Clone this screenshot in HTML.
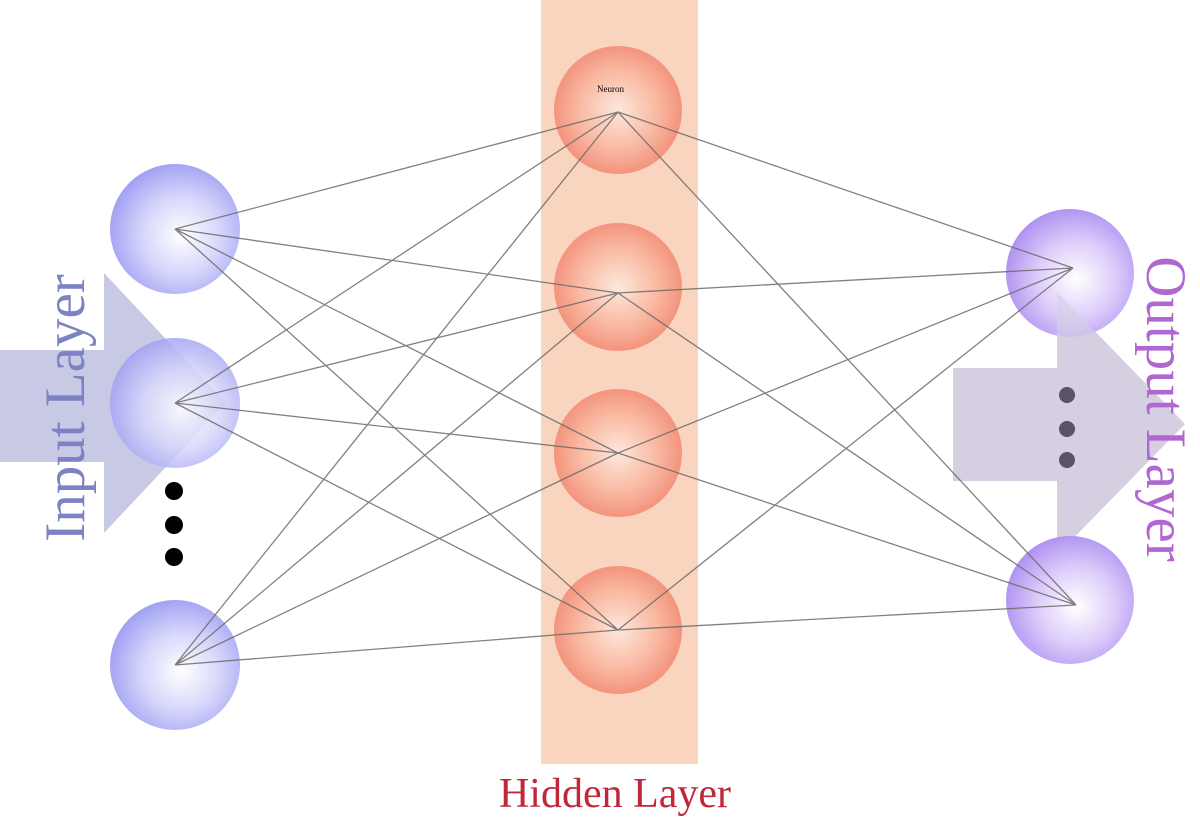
<!DOCTYPE html>
<html><head><meta charset="utf-8"><style>
html,body{margin:0;padding:0;background:#fff;}
svg{display:block;}
</style></head><body>
<svg width="1200" height="820" viewBox="0 0 1200 820" xmlns="http://www.w3.org/2000/svg">
<defs>
<radialGradient id="blue" cx="0.55" cy="0.55" r="0.6">
<stop offset="0" stop-color="#ffffff"/><stop offset="0.5" stop-color="#d6d6fb"/><stop offset="1" stop-color="#9a9af2"/>
</radialGradient>
<radialGradient id="purple" cx="0.55" cy="0.55" r="0.6">
<stop offset="0" stop-color="#ffffff"/><stop offset="0.5" stop-color="#ddcdfa"/><stop offset="1" stop-color="#a98bf0"/>
</radialGradient>
<radialGradient id="red" cx="0.5" cy="0.5" r="0.55">
<stop offset="0" stop-color="#fde8dc"/><stop offset="0.55" stop-color="#f9b9a2"/><stop offset="1" stop-color="#f28a74"/>
</radialGradient>
</defs>
<rect x="541" y="0" width="157" height="764" fill="#f9d4be"/>
<polygon points="0,350 104,350 104,273 226,403 104,533 104,462 0,462" fill="#c4c6e4" opacity="0.95"/>
<polygon points="953,368 1057,368 1057,292 1185,424 1057,555 1057,481 953,481" fill="#d6cfe2"/>
<circle cx="175" cy="229" r="65" fill="url(#blue)"/>
<circle cx="175" cy="403" r="65" fill="url(#blue)" opacity="0.85"/>
<circle cx="175" cy="665" r="65" fill="url(#blue)"/>
<circle cx="618" cy="110" r="64" fill="url(#red)"/>
<circle cx="618" cy="287" r="64" fill="url(#red)"/>
<circle cx="618" cy="453" r="64" fill="url(#red)"/>
<circle cx="618" cy="630" r="64" fill="url(#red)"/>
<circle cx="1070" cy="273" r="64" fill="url(#purple)"/>
<circle cx="1070" cy="600" r="64" fill="url(#purple)"/>
<polygon points="1057,292 1130,368 1057,368" fill="#d6cfe2" opacity="0.6"/>
<g stroke="#6e6a6a" stroke-width="1.3" fill="none" opacity="0.85">
<path d="M175,229L618,112M175,229L618,293M175,229L618,453M175,229L618,630"/>
<path d="M175,403L618,112M175,403L618,293M175,403L618,453M175,403L618,630"/>
<path d="M175,665L618,112M175,665L618,293M175,665L618,453M175,665L618,630"/>
<path d="M618,112L1073,268M618,293L1073,268M618,453L1073,268M618,630L1073,268"/>
<path d="M618,112L1076,605M618,293L1076,605M618,453L1076,605M618,630L1076,605"/>
</g>
<circle cx="174" cy="491" r="9" fill="#000"/>
<circle cx="174" cy="525" r="9" fill="#000"/>
<circle cx="174" cy="557" r="9" fill="#000"/>
<circle cx="1067" cy="395" r="8" fill="#5a5266"/>
<circle cx="1067" cy="429" r="8" fill="#5a5266"/>
<circle cx="1067" cy="460" r="8" fill="#5a5266"/>
<text x="597" y="92" font-family="Liberation Serif, serif" font-size="9" fill="#000">Neuron</text>
<text transform="translate(84,408) rotate(-90)" text-anchor="middle" font-family="Liberation Serif, serif" font-size="57" fill="#7c82c4">Input Layer</text>
<text transform="translate(1147,409) rotate(90)" text-anchor="middle" font-family="Liberation Serif, serif" font-size="57" fill="#b067d2">Output Layer</text>
<text x="615" y="807" text-anchor="middle" font-family="Liberation Serif, serif" font-size="42" fill="#c0283a">Hidden Layer</text>
</svg>
</body></html>
